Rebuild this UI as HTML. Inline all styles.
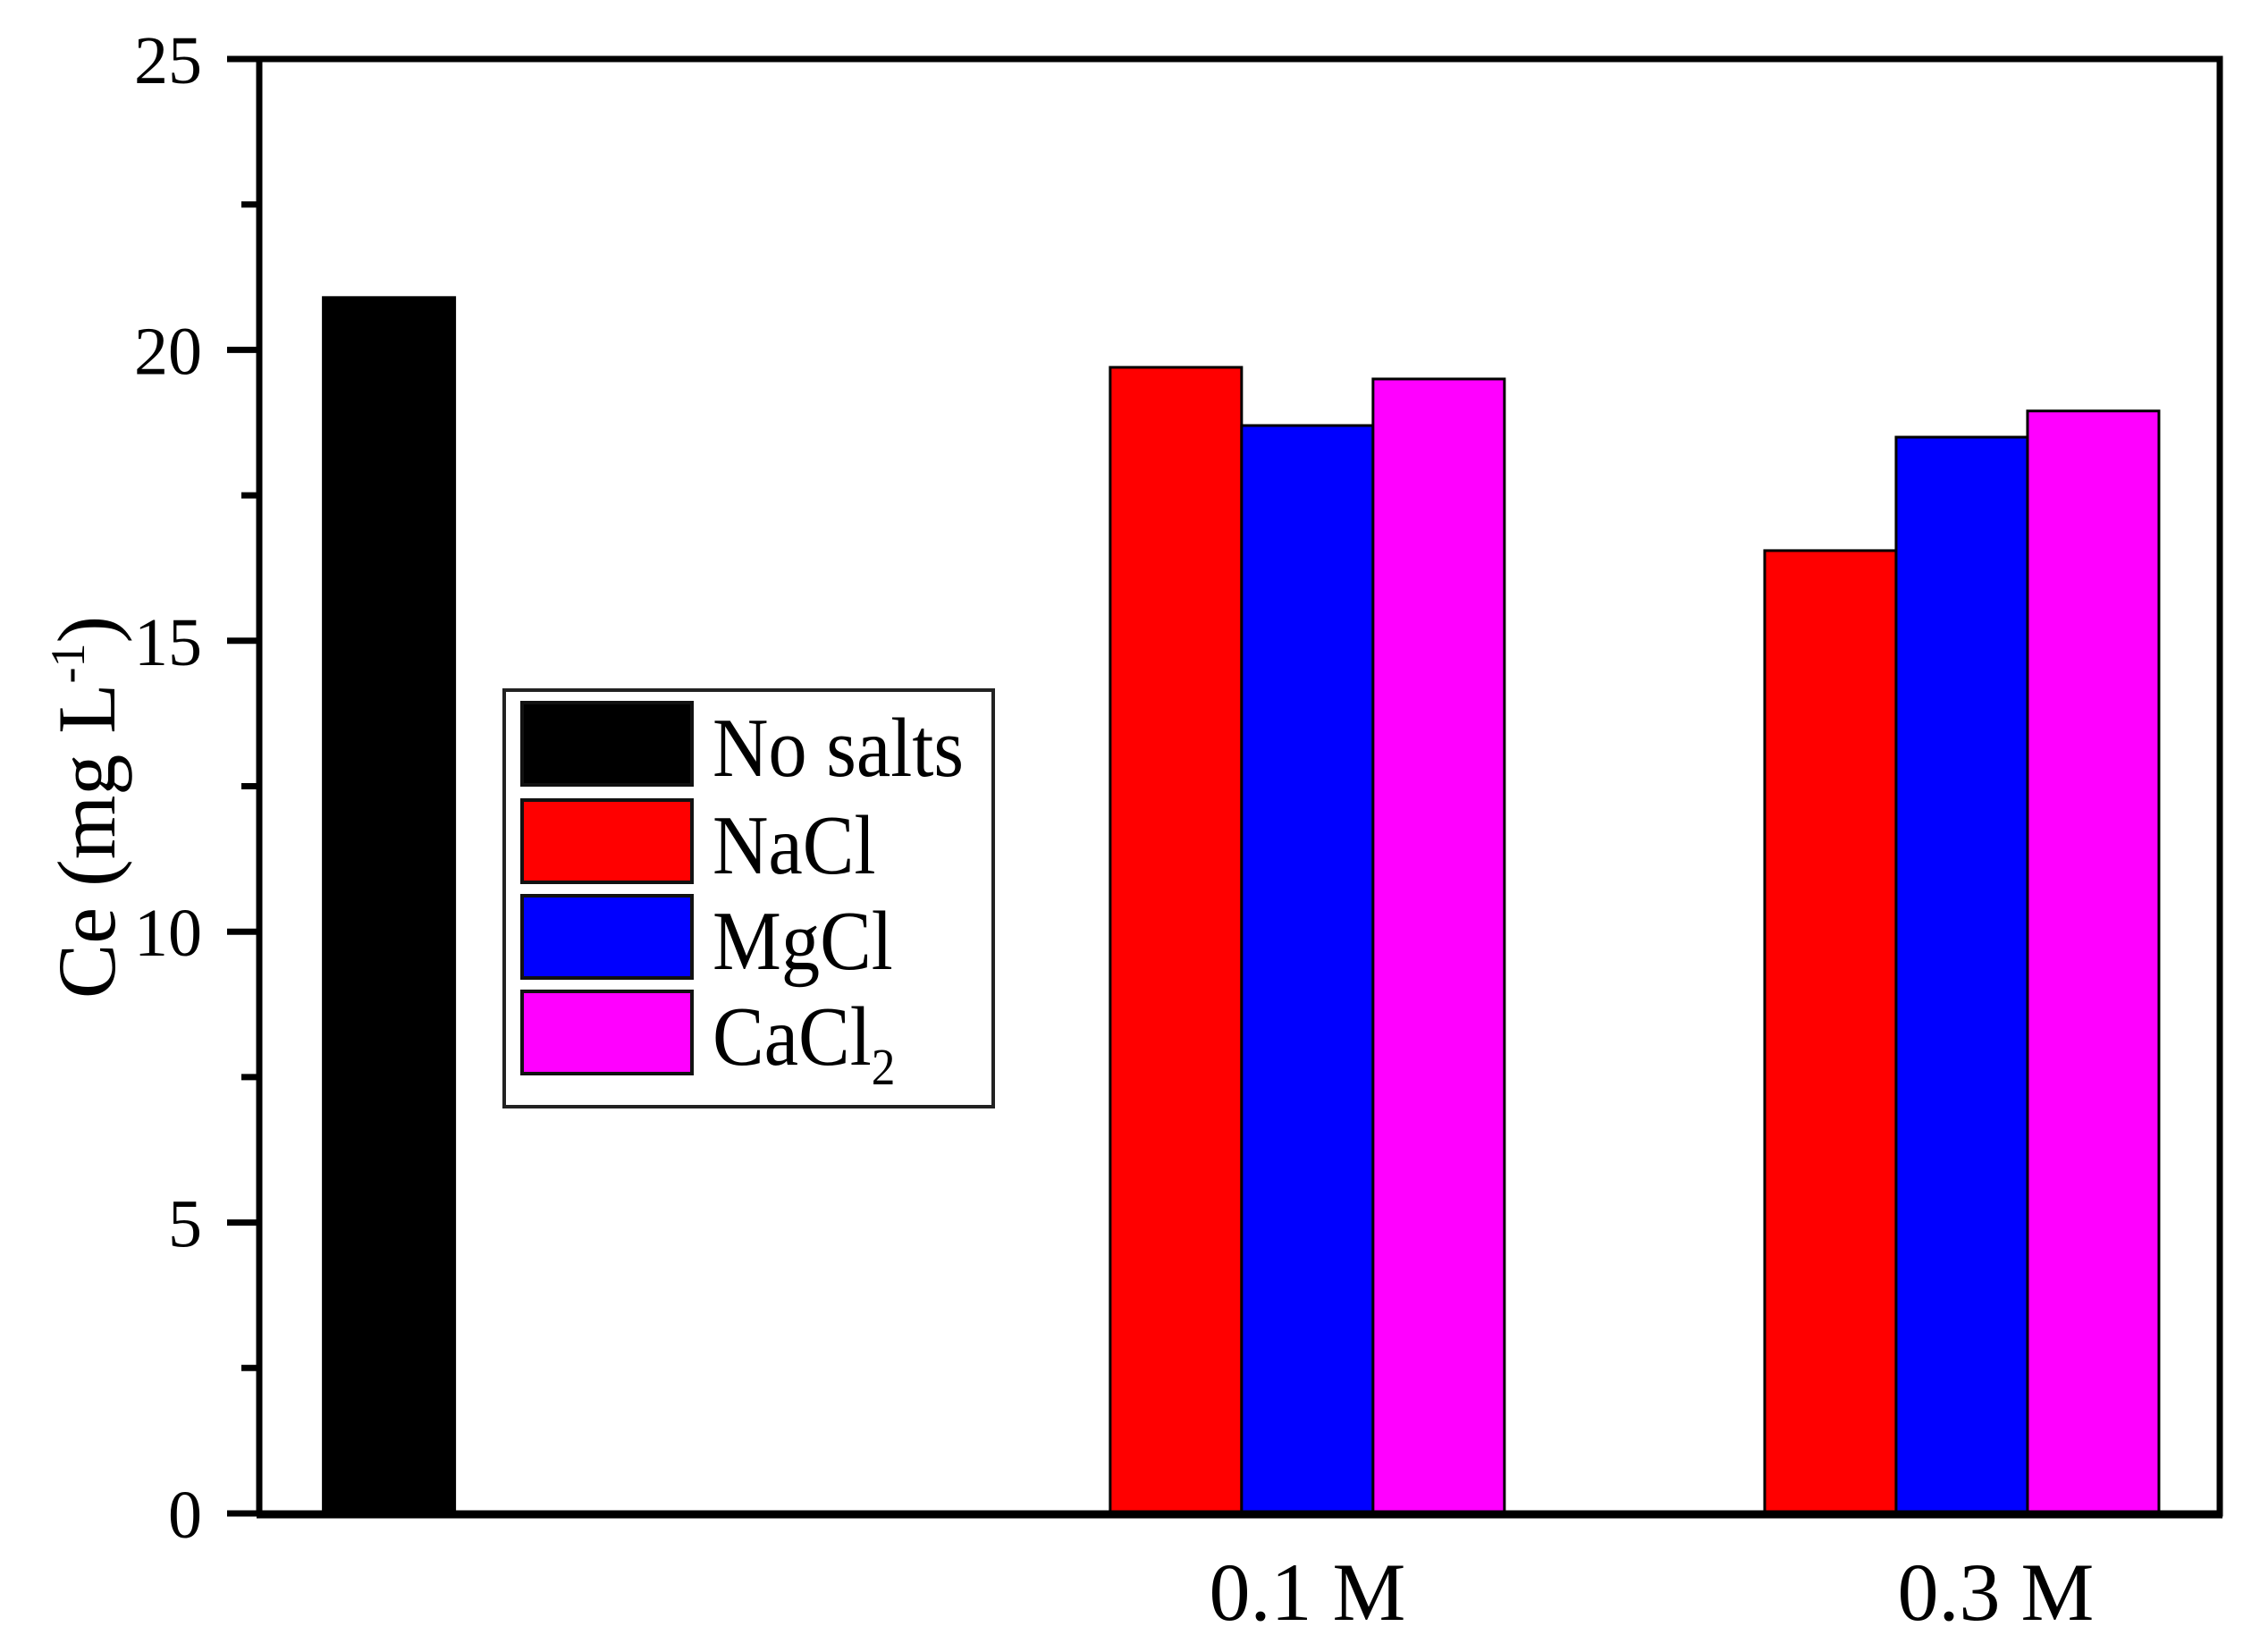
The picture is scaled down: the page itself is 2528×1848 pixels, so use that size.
<!DOCTYPE html>
<html><head><meta charset="utf-8"><style>
html,body{margin:0;padding:0;background:#fff;}
svg{display:block;font-family:"Liberation Serif",serif;}
</style></head><body>
<svg id="chart" width="2528" height="1848" viewBox="0 0 2528 1848">
<g id="bars"></g>
<g id="axes"></g>
<g id="legend"></g>
</svg>
<script>
const seriesNames = ["No salts", "NaCl", "MgCl", "CaCl2"];
const seriesColors = ["#000000", "#ff0000", "#0000ff", "#ff00ff"];
const groupLabels = ["", "0.1 M", "0.3 M"];
const groupCenters = [0.88, 7.11, 11.55];
const labelCenters = [0.88, 7.11, 11.78];
const noSaltValues = [20.9, null, null];
const naclValues = [null, 19.7, 16.55];
const mgclValues = [null, 18.7, 18.5];
const caclValues = [null, 19.5, 18.95];
const yTicks = [0, 5, 10, 15, 20, 25];
const yMinorTicks = [2.5, 7.5, 12.5, 17.5, 22.5];

const L = 290, R = 2483, T = 66, B = 1693;
const X_MAX = 13.3;
const xs = v => L + (v / X_MAX) * (R - L);
const ys = v => B - (v / 25) * (B - T);
const barW = 147;
const NS = "http://www.w3.org/2000/svg";
function mk(tag, attrs, parent) {
  const e = document.createElementNS(NS, tag);
  for (const k in attrs) e.setAttribute(k, attrs[k]);
  parent.appendChild(e);
  return e;
}
const bars = document.getElementById('bars');
const axes = document.getElementById('axes');
const legend = document.getElementById('legend');

const allSeries = [noSaltValues, naclValues, mgclValues, caclValues];
groupLabels.forEach((g, gi) => {
  const present = [];
  allSeries.forEach((s, si) => { if (s[gi] != null) present.push(si); });
  const start = xs(groupCenters[gi]) - present.length * barW / 2;
  present.forEach((si, k) => {
    const v = allSeries[si][gi];
    const r = mk('rect', {x: start + k * barW, y: ys(v), width: barW, height: ys(0) - ys(v),
      fill: seriesColors[si], stroke: '#000', 'stroke-width': 3}, bars);
    
    
  });
});

const frame = mk('rect', {x: L, y: T, width: R - L, height: B - T, fill: 'none', stroke: '#000', 'stroke-width': 7}, axes);


const xAxis = mk('line', {x1: L - 3, x2: R + 3, y1: B + 1, y2: B + 1, stroke: '#000', 'stroke-width': 9}, axes);



yTicks.forEach(t => {
  const tk = mk('line', {x1: L - 36, x2: L, y1: ys(t), y2: ys(t), stroke: '#000', 'stroke-width': 7}, axes);
  
  
  const tx = mk('text', {x: 226, y: ys(t) + 27, 'text-anchor': 'end', 'font-size': 76}, axes);
  tx.textContent = t;
  
  
});
yMinorTicks.forEach(t => {
  const tk = mk('line', {x1: L - 20, x2: L, y1: ys(t), y2: ys(t), stroke: '#000', 'stroke-width': 7}, axes);
  
  
});
groupLabels.forEach((g, gi) => {
  if (!g) return;
  const tx = mk('text', {x: xs(labelCenters[gi]), y: 1812, 'text-anchor': 'middle', 'font-size': 92}, axes);
  tx.textContent = g;
  
  
});

const yt = mk('text', {transform: 'translate(128,903) rotate(-90)', 'text-anchor': 'middle', 'font-size': 92}, axes);


yt.innerHTML = 'Ce (mg L<tspan dy="-34" font-size="54">-1</tspan><tspan dy="34">)</tspan>';

const lb = mk('rect', {x: 564, y: 772, width: 547, height: 466, fill: '#fff', stroke: '#222', 'stroke-width': 4}, legend);


const rowTops = [786, 895, 1002, 1109];
seriesNames.forEach((n, i) => {
  const sw = mk('rect', {x: 584, y: rowTops[i], width: 190, height: 92, fill: seriesColors[i], stroke: '#111', 'stroke-width': 4}, legend);
  
  
  const tx = mk('text', {x: 797, y: rowTops[i] + 82, 'font-size': 94, transform: 'translate(' + (797 * 0.08) + ',0) scale(0.92,1)'}, legend);
  
  
  if (n === 'CaCl2') tx.innerHTML = 'CaCl<tspan dy="22" font-size="58">2</tspan>';
  else tx.textContent = n;
});
</script>
</body></html>
